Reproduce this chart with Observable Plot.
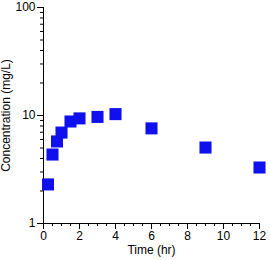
<!DOCTYPE html>
<html>
<head>
<meta charset="utf-8">
<script src="https://cdn.jsdelivr.net/npm/d3@7"></script>
<script src="https://cdn.jsdelivr.net/npm/@observablehq/plot@0.6"></script>
<style>
  html, body { margin: 0; padding: 0; background: #fff; }
  svg { display: block; }
</style>
</head>
<body>
<div id="chart"></div>
<script>
const times = [0.25, 0.5, 0.75, 1, 1.5, 2, 3, 4, 6, 9, 12];
const concentrations = [2.3, 4.35, 5.75, 6.95, 8.8, 9.4, 9.7, 10.3, 7.6, 5.05, 3.3];
const xMajorTicks = [0, 2, 4, 6, 8, 10, 12];
const xMinorTicks = d3.range(0, 12.01, 0.5);
const yMajorTicks = [1, 10, 100];
const yMinorTicks = [2,3,4,5,6,7,8,9,20,30,40,50,60,70,80,90];

const data = times.map((t, i) => ({t, c: concentrations[i]}));

const chart = Plot.plot({
  width: 270,
  height: 260,
  marginLeft: 43,
  marginTop: 7,
  marginRight: 11,
  marginBottom: 37,
  style: {fontFamily: "'Liberation Sans', Arial, sans-serif", fontSize: "12px", color: "#000", background: "#fff"},
  x: {domain: [0, 12]},
  y: {type: "log", domain: [1, 100]},
  marks: [
    Plot.axisX({ticks: xMinorTicks, tickSize: 3, tickFormat: () => "", label: null}),
    Plot.axisX({ticks: xMajorTicks, tickSize: 6, tickPadding: 2, tickFormat: d => String(d),
      label: "Time (hr)", labelAnchor: "center", labelOffset: 30, labelArrow: false}),
    Plot.axisY({ticks: yMinorTicks, tickSize: 3, tickFormat: () => "", label: null}),
    Plot.axisY({ticks: yMajorTicks, tickSize: 6, tickPadding: 2, tickFormat: d => String(d),
      label: "Concentration (mg/L)", labelAnchor: "center", labelOffset: 42, labelArrow: false}),
    Plot.ruleX([0], {stroke: "#000"}),
    Plot.ruleY([1], {stroke: "#000"}),
    Plot.dot(data, {x: "t", y: "c", symbol: "square", r: 6.8, fill: "#1010ee", stroke: null})
  ]
});
document.getElementById("chart").append(chart);
</script>
</body>
</html>
